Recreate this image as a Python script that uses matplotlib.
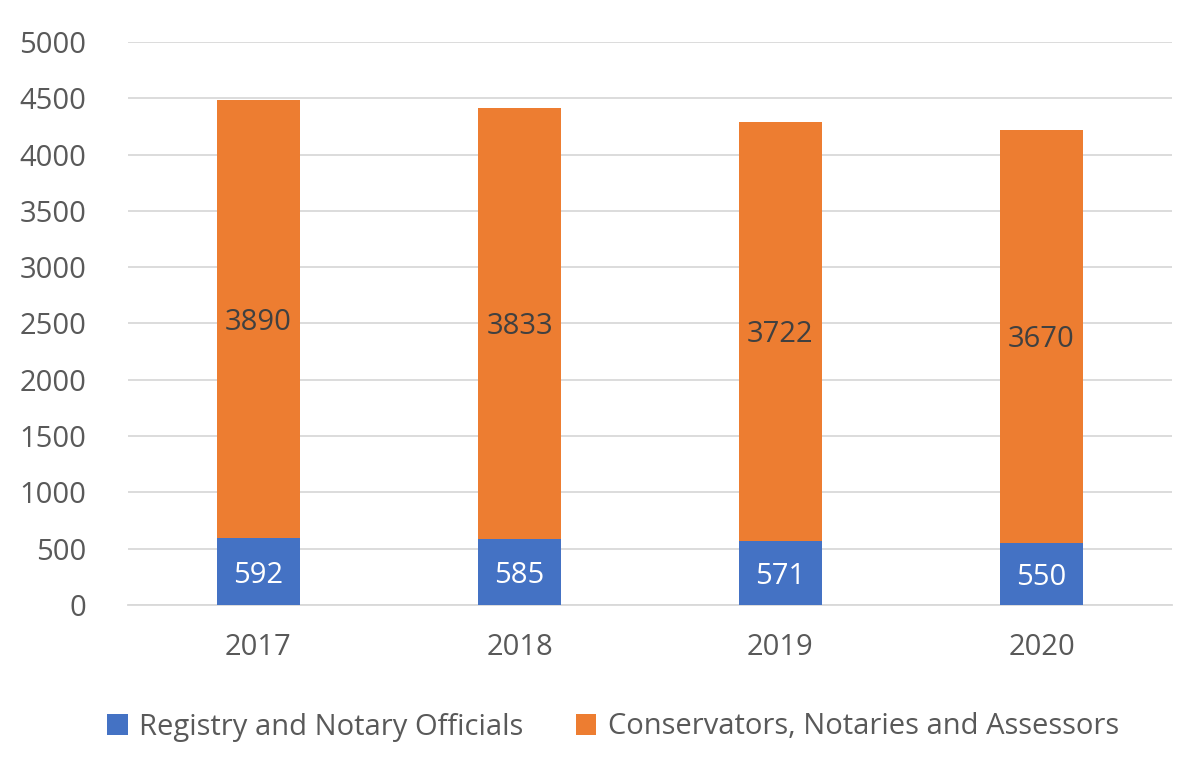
import matplotlib
matplotlib.use("Agg")
import matplotlib.pyplot as plt
import numpy as np

years = ["2017", "2018", "2019", "2020"]
registry = [592, 585, 571, 550]
conservators = [3890, 3833, 3722, 3670]
series_names = ["Registry and Notary Officials", "Conservators, Notaries and Assessors"]
yticks = [0, 500, 1000, 1500, 2000, 2500, 3000, 3500, 4000, 4500, 5000]

plt.rcParams['font.family'] = ['Open Sans', 'DejaVu Sans']
blue = "#4472C4"
orange = "#ED7D31"
txt = "#595959"
fs = 21

fig = plt.figure(figsize=(12, 7.65), dpi=100)
ax = fig.add_axes([128/1200, 1 - 605/765, (1172-128)/1200, (605-42)/765])

x = np.arange(len(years))
w = 0.315
b1 = ax.bar(x, registry, w, color=blue, label=series_names[0], zorder=3)
b2 = ax.bar(x, conservators, w, bottom=registry, color=orange, label=series_names[1], zorder=3)

for xi, r, c in zip(x, registry, conservators):
    ax.text(xi, r/2, str(r), ha="center", va="center_baseline", color="white", fontsize=fs, zorder=4)
    ax.text(xi, r + c/2, str(c), ha="center", va="center_baseline", color="#404040", fontsize=fs, zorder=4)

ax.set_xlim(-0.5, len(years) - 0.5)
ax.set_ylim(0, 5000)
ax.set_yticks(yticks)
ax.set_xticks(x)
ax.set_xticklabels(years)
ax.grid(axis="y", color="#D9D9D9", linewidth=1.3, zorder=0)
for s in ["top", "right", "left"]:
    ax.spines[s].set_visible(False)
ax.spines["bottom"].set_color("#D9D9D9")
ax.spines["bottom"].set_linewidth(1.3)
ax.tick_params(axis="both", length=0, labelsize=fs, labelcolor=txt)
ax.tick_params(axis="y", pad=30)
ax.tick_params(axis="x", pad=20)

fig.legend(handles=[b1, b2], labels=series_names, loc="center", bbox_to_anchor=(0.511, 1 - 727/765),
           ncol=2, frameon=False, fontsize=fs, labelcolor=txt, handlelength=0.7, handleheight=0.7,
           handletextpad=0.4, columnspacing=1.8)

fig.savefig("out.png", dpi=100)
